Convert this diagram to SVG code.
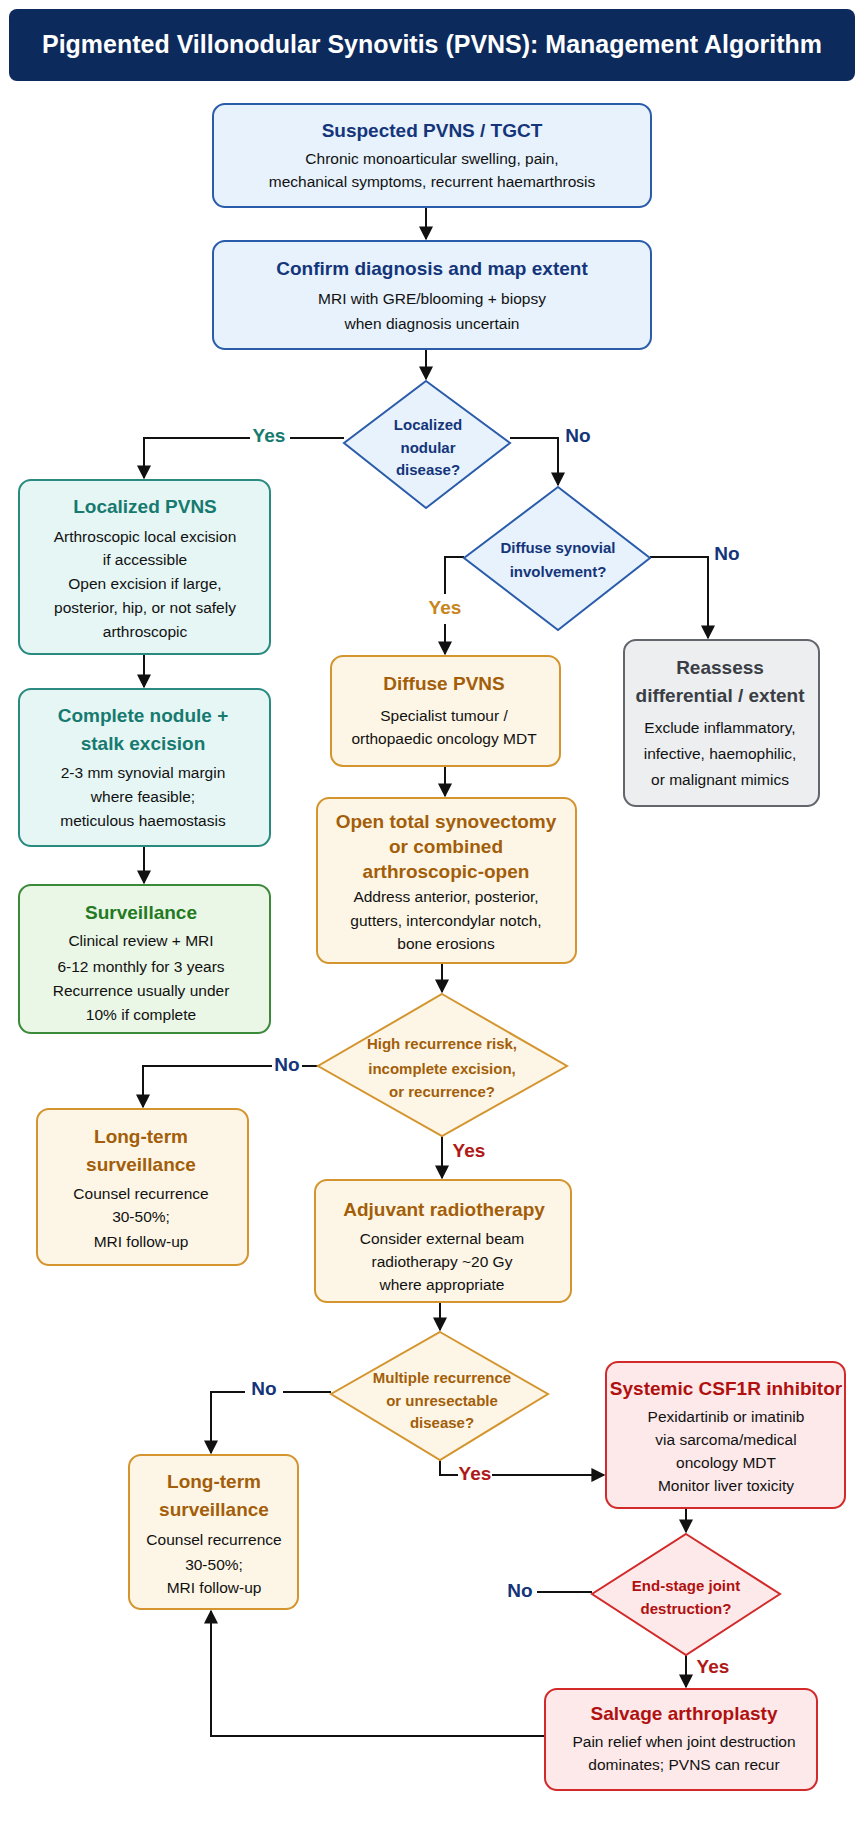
<svg xmlns="http://www.w3.org/2000/svg" width="864" height="1821" viewBox="0 0 864 1821">
<style>
text{font-family:"Liberation Sans",Arial,sans-serif;text-anchor:middle;dominant-baseline:middle}
.t{font-size:19px;font-weight:bold}
.b{font-size:15.5px;fill:#111}
.d{font-size:15px;font-weight:bold}
.lbl{font-size:19px;font-weight:bold}
.blue rect,.blue polygon{fill:#e7f2fc;stroke:#2a5caa;stroke-width:2}
.blue .t,.blue .d{fill:#14357a}
.teal rect{fill:#e6f6f5;stroke:#2a8a80;stroke-width:2}
.teal .t{fill:#167a70}
.green rect{fill:#eaf6e6;stroke:#3a8a3a;stroke-width:2}
.green .t{fill:#237a23}
.orange rect,.orange polygon{fill:#fdf6e6;stroke:#d4952f;stroke-width:2}
.orange .t,.orange .d{fill:#a35e0a}
.gray rect{fill:#eceef0;stroke:#62666c;stroke-width:2}
.gray .t{fill:#3a3e44}
.red rect,.red polygon{fill:#fde9e9;stroke:#d22a2a;stroke-width:2}
.red .t,.red .d{fill:#b01010}
#connectors path{fill:none;stroke:#111;stroke-width:2}
</style>
<defs>
<marker id="ah" viewBox="0 0 10 10" refX="9" refY="5" markerWidth="7" markerHeight="7" orient="auto"><path d="M0,0 L10,5 L0,10 z" fill="#111"/></marker>
</defs>
<rect width="864" height="1821" fill="#fff"/>
<g id="title">
<rect x="9" y="9" width="846" height="72" rx="8" fill="#0c2a5c"/>
<text x="432" y="46" font-size="25" font-weight="bold" fill="#fff" textLength="780" lengthAdjust="spacingAndGlyphs">Pigmented Villonodular Synovitis (PVNS): Management Algorithm</text>
</g>
<g id="connectors">
<path d="M426,207 V239" marker-end="url(#ah)"/>
<path d="M426,349 V379" marker-end="url(#ah)"/>
<path d="M344,438 H290 M250,438 H144 V478" marker-end="url(#ah)"/>
<path d="M510,438 H558 V485" marker-end="url(#ah)"/>
<path d="M464,557 H445 V594 M445,624 V654" marker-end="url(#ah)"/>
<path d="M650,557 H708 V638" marker-end="url(#ah)"/>
<path d="M144,654 V687" marker-end="url(#ah)"/>
<path d="M144,846 V883" marker-end="url(#ah)"/>
<path d="M445,766 V796" marker-end="url(#ah)"/>
<path d="M442,963 V992" marker-end="url(#ah)"/>
<path d="M318,1066 H302 M272,1066 H143 V1107" marker-end="url(#ah)"/>
<path d="M442,1136 V1178" marker-end="url(#ah)"/>
<path d="M440,1302 V1330" marker-end="url(#ah)"/>
<path d="M331,1392 H283 M245,1392 H211 V1453" marker-end="url(#ah)"/>
<path d="M440,1460 V1475 H458 M492,1475 H604" marker-end="url(#ah)"/>
<path d="M686,1508 V1532" marker-end="url(#ah)"/>
<path d="M592,1592 H537"/>
<path d="M686,1655 V1687" marker-end="url(#ah)"/>
<path d="M545,1736 H211 V1611" marker-end="url(#ah)"/>
<g font-family="Liberation Sans,Arial,sans-serif">
<text class="lbl" x="269" y="437" fill="#167a70">Yes</text>
<text class="lbl" x="578" y="437" fill="#14357a">No</text>
<text class="lbl" x="445" y="609" fill="#c7851c">Yes</text>
<text class="lbl" x="727" y="555" fill="#14357a">No</text>
<text class="lbl" x="287" y="1066" fill="#14357a">No</text>
<text class="lbl" x="469" y="1152" fill="#b01818">Yes</text>
<text class="lbl" x="264" y="1390" fill="#14357a">No</text>
<text class="lbl" x="475" y="1475" fill="#b01818">Yes</text>
<text class="lbl" x="520" y="1592" fill="#14357a">No</text>
<text class="lbl" x="713" y="1668" fill="#b01818">Yes</text>
</g>
</g>
<g id="n1" class="blue"><rect x="213" y="104" width="438" height="103" rx="12"/>
<text class="t" x="432" y="132">Suspected PVNS / TGCT</text>
<text class="b" x="432" y="160">Chronic monoarticular swelling, pain,</text>
<text class="b" x="432" y="183">mechanical symptoms, recurrent haemarthrosis</text></g>
<g id="n2" class="blue"><rect x="213" y="241" width="438" height="108" rx="12"/>
<text class="t" x="432" y="270">Confirm diagnosis and map extent</text>
<text class="b" x="432" y="300">MRI with GRE/blooming + biopsy</text>
<text class="b" x="432" y="325">when diagnosis uncertain</text></g>
<g id="d1" class="blue"><polygon points="426,381 510,443 426,508 344,443"/>
<text class="d" x="428" y="426">Localized</text>
<text class="d" x="428" y="449">nodular</text>
<text class="d" x="428" y="471">disease?</text></g>
<g id="d2" class="blue"><polygon points="558,487 650,558 558,630 464,558"/>
<text class="d" x="558" y="549">Diffuse synovial</text>
<text class="d" x="558" y="573">involvement?</text></g>
<g id="n3" class="teal"><rect x="19" y="480" width="251" height="174" rx="12"/>
<text class="t" x="145" y="508">Localized PVNS</text>
<text class="b" x="145" y="538">Arthroscopic local excision</text>
<text class="b" x="145" y="561">if accessible</text>
<text class="b" x="145" y="585">Open excision if large,</text>
<text class="b" x="145" y="609">posterior, hip, or not safely</text>
<text class="b" x="145" y="633">arthroscopic</text></g>
<g id="n4" class="teal"><rect x="19" y="689" width="251" height="157" rx="12"/>
<text class="t" x="143" y="717">Complete nodule +</text>
<text class="t" x="143" y="745">stalk excision</text>
<text class="b" x="143" y="774">2-3 mm synovial margin</text>
<text class="b" x="143" y="798">where feasible;</text>
<text class="b" x="143" y="822">meticulous haemostasis</text></g>
<g id="n5" class="green"><rect x="19" y="885" width="251" height="148" rx="12"/>
<text class="t" x="141" y="914">Surveillance</text>
<text class="b" x="141" y="942">Clinical review + MRI</text>
<text class="b" x="141" y="968">6-12 monthly for 3 years</text>
<text class="b" x="141" y="992">Recurrence usually under</text>
<text class="b" x="141" y="1016">10% if complete</text></g>
<g id="n6" class="orange"><rect x="331" y="656" width="229" height="110" rx="12"/>
<text class="t" x="444" y="685">Diffuse PVNS</text>
<text class="b" x="444" y="717">Specialist tumour /</text>
<text class="b" x="444" y="740">orthopaedic oncology MDT</text></g>
<g id="n7" class="gray"><rect x="624" y="640" width="195" height="166" rx="12"/>
<text class="t" x="720" y="669">Reassess</text>
<text class="t" x="720" y="697">differential / extent</text>
<text class="b" x="720" y="729">Exclude inflammatory,</text>
<text class="b" x="720" y="755">infective, haemophilic,</text>
<text class="b" x="720" y="781">or malignant mimics</text></g>
<g id="n8" class="orange"><rect x="317" y="798" width="259" height="165" rx="12"/>
<text class="t" x="446" y="823">Open total synovectomy</text>
<text class="t" x="446" y="848">or combined</text>
<text class="t" x="446" y="873">arthroscopic-open</text>
<text class="b" x="446" y="898">Address anterior, posterior,</text>
<text class="b" x="446" y="922">gutters, intercondylar notch,</text>
<text class="b" x="446" y="945">bone erosions</text></g>
<g id="d3" class="orange"><polygon points="442,994 567,1066 442,1136 318,1066"/>
<text class="d" x="442" y="1045" font-weight="normal">High recurrence risk,</text>
<text class="d" x="442" y="1070" font-weight="normal">incomplete excision,</text>
<text class="d" x="442" y="1093" font-weight="normal">or recurrence?</text></g>
<g id="n9" class="orange"><rect x="37" y="1109" width="211" height="156" rx="12"/>
<text class="t" x="141" y="1138">Long-term</text>
<text class="t" x="141" y="1166">surveillance</text>
<text class="b" x="141" y="1195">Counsel recurrence</text>
<text class="b" x="141" y="1218">30-50%;</text>
<text class="b" x="141" y="1243">MRI follow-up</text></g>
<g id="n10" class="orange"><rect x="315" y="1180" width="256" height="122" rx="12"/>
<text class="t" x="444" y="1211">Adjuvant radiotherapy</text>
<text class="b" x="442" y="1240">Consider external beam</text>
<text class="b" x="442" y="1263">radiotherapy ~20 Gy</text>
<text class="b" x="442" y="1286">where appropriate</text></g>
<g id="d4" class="orange"><polygon points="440,1332 548,1394 440,1460 331,1394"/>
<text class="d" x="442" y="1379" font-weight="normal">Multiple recurrence</text>
<text class="d" x="442" y="1402" font-weight="normal">or unresectable</text>
<text class="d" x="442" y="1424" font-weight="normal">disease?</text></g>
<g id="n11" class="red"><rect x="606" y="1362" width="239" height="146" rx="12"/>
<text class="t" x="726" y="1390">Systemic CSF1R inhibitor</text>
<text class="b" x="726" y="1418">Pexidartinib or imatinib</text>
<text class="b" x="726" y="1441">via sarcoma/medical</text>
<text class="b" x="726" y="1464">oncology MDT</text>
<text class="b" x="726" y="1487">Monitor liver toxicity</text></g>
<g id="d5" class="red"><polygon points="686,1534 780,1594 686,1655 592,1594"/>
<text class="d" x="686" y="1587" font-weight="normal">End-stage joint</text>
<text class="d" x="686" y="1610" font-weight="normal">destruction?</text></g>
<g id="n12" class="orange"><rect x="129" y="1455" width="169" height="154" rx="12"/>
<text class="t" x="214" y="1483">Long-term</text>
<text class="t" x="214" y="1511">surveillance</text>
<text class="b" x="214" y="1541">Counsel recurrence</text>
<text class="b" x="214" y="1566">30-50%;</text>
<text class="b" x="214" y="1589">MRI follow-up</text></g>
<g id="n13" class="red"><rect x="545" y="1689" width="272" height="101" rx="12"/>
<text class="t" x="684" y="1715">Salvage arthroplasty</text>
<text class="b" x="684" y="1743">Pain relief when joint destruction</text>
<text class="b" x="684" y="1766">dominates; PVNS can recur</text></g>
</svg>
